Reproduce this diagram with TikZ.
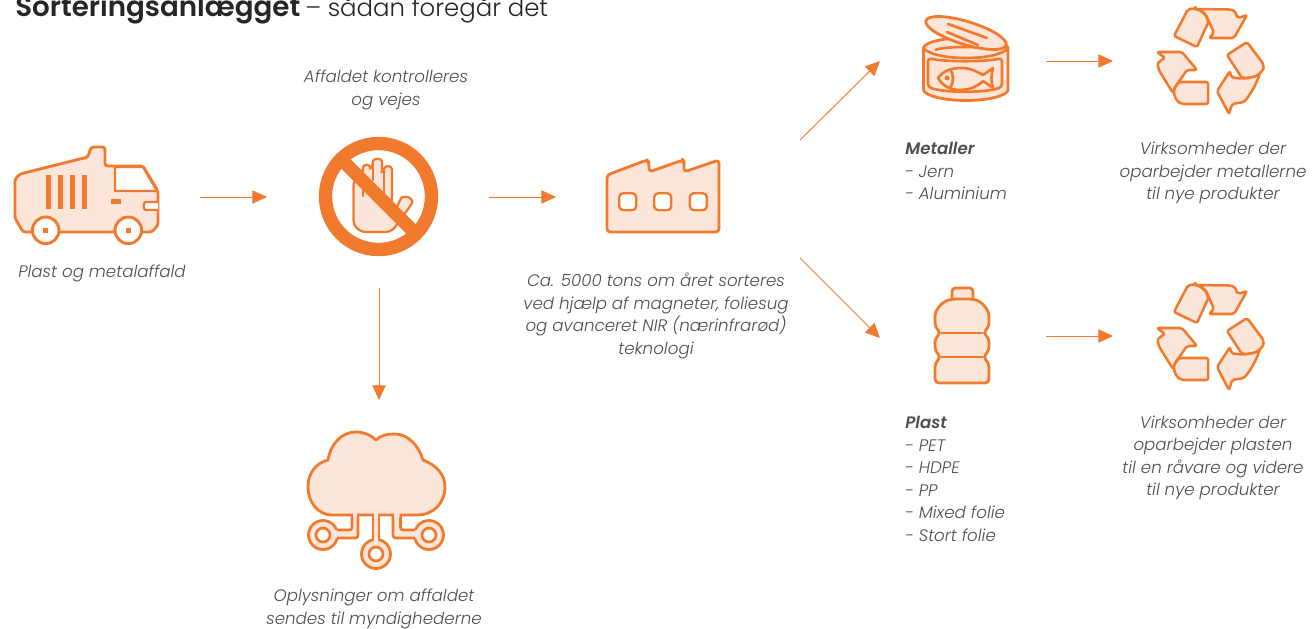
\documentclass[tikz,border=0pt]{standalone}
\usepackage{fontspec}
\setmainfont{Poppins Light}[ItalicFont={Poppins Light Italic},BoldItalicFont={Poppins SemiBold Italic},BoldFont={Poppins SemiBold}]
\newfontfamily\titlefont{Poppins}[BoldFont={Poppins SemiBold},UprightFont={Poppins Light}]
\usetikzlibrary{arrows.meta}
\definecolor{org}{HTML}{F27A2E}
\definecolor{lite}{HTML}{FCE6D9}
\definecolor{txt}{HTML}{4F4F4F}
\tikzset{
  icon/.style={draw=org,fill=lite,line width=2.1pt,line join=round,line cap=round},
  thin icon/.style={icon,line width=1.9pt},
  holeshape/.style={draw=org,fill=white,line width=2pt,line join=round},
  flow/.style={draw=org,line width=0.7pt,-{Triangle[length=11pt,width=10pt,fill=org]}},
  lab/.style={font=\itshape\fontsize{12.5}{16.9}\selectfont,text=txt,align=center,inner sep=0pt},
  labl/.style={lab,align=left,anchor=north west},
  recycle/.pic={
    \draw[thin icon,rounded corners=1.5pt] (1195,9) -- (1230,9.5) .. controls (1236,11) and (1236,15) .. (1238,18) -- (1247,15) -- (1234,38) -- (1209,38) -- (1214,33) -- (1207,17) .. controls (1204,12) and (1200,10) .. (1195,9) -- cycle;
    \draw[thin icon,rounded corners=1.5pt] (1174,36) -- (1186,13) .. controls (1188,9) and (1192,8.5) .. (1195,9) .. controls (1200,10) and (1205,14) .. (1207,18) .. controls (1208,21) and (1208,23) .. (1207,25) -- (1197,47) -- cycle;
    \draw[thin icon,rounded corners=1.5pt] (1260,73) .. controls (1256,85) and (1250,95) .. (1244,102) -- (1232,104) -- (1229,114) -- (1217,91) -- (1230,71) -- (1231,77) .. controls (1240,79) and (1252,79) .. (1260,73) -- cycle;
    \draw[thin icon,rounded corners=1.5pt] (1227,55) -- (1247,42) -- (1262,62) .. controls (1264,66) and (1264,69) .. (1260,73) .. controls (1256,77) and (1248,78) .. (1242,78) -- cycle;
    \draw[thin icon,rounded corners=1.5pt] (1157,52) -- (1182,52) -- (1197,70) -- (1187,70) -- (1175,87) -- (1173,93) -- (1160,72) .. controls (1158,68) and (1157,64) .. (1160,61) -- (1165,58) -- cycle;
    \draw[thin icon,rounded corners=1.5pt] (1208,82) -- (1208,104) -- (1186,104) .. controls (1178,104) and (1175,98) .. (1174,93) .. controls (1174,88) and (1178,82) .. (1183,82) -- cycle;
  }
}
\begin{document}
\begin{tikzpicture}[x=0.75pt,y=-0.75pt]
\clip (0,0) rectangle (1313,628);
\useasboundingbox (0,0) rectangle (1313,628);
\fill[white] (0,0) rectangle (1313,628);

% title
\node[anchor=base west,inner sep=0pt,text=black!85] (title) at (15,16.5) {\titlefont\bfseries\fontsize{20.8}{20}\selectfont Sorteringsanlægget};
\node[anchor=base west,inner sep=0pt,text=black!85] (titleb) at (305,16.5) {\titlefont\fontsize{18.3}{20}\selectfont – sådan foregår det};

% truck
\draw[icon,rounded corners=2pt] (15,218) -- (15,179) -- (20,174) -- (88,157) -- (91,147) -- (105,147) -- (105,166) -- (143,166) -- (158,191) -- (158,225) -- (152,232) -- (23,232) -- cycle;
\draw[holeshape,line width=1.8pt] (115,167) -- (115,191) -- (157,191) -- (143,167) -- cycle;
\draw[holeshape,rounded corners=1.5pt,line width=1.8pt] (158,202) -- (144,202) -- (144,210) -- (158,210);
\foreach \x in {46,58,70,82} \fill[org] (\x,175) rectangle ++(5,34);
\fill[org] (111,199) rectangle (121,204);
\foreach \x in {45.7,128.3}{
  \draw[holeshape,line width=2.2pt] (\x,230.3) circle[radius=13.3];
  \fill[org] (\x-2.5,227.8) rectangle ++(5,5);
}
\node[lab] (truckl) at (102,273) {Plast og metalaffald};

% stop hand
\draw[thin icon,line width=1.7pt,rounded corners=2pt] (353.5,182) -- (353.5,218) .. controls (353.5,227) and (360,232) .. (368,232) -- (383,232) .. controls (390,232) and (394,229) .. (397,224) -- (411,205) .. controls (413,201) and (410,197) .. (405,197) .. controls (402,197) and (400,199) .. (397,208) -- (392,212) -- (392,172) .. controls (392,165) and (384,165) .. (384,172) -- (382,172) -- (382,164) .. controls (382,158) and (373,158) .. (373,164) -- (370,170) .. controls (370,164) and (363,164) .. (363,170) -- (362,175) -- cycle;
\draw[org,line width=1.7pt,line cap=round] (363,172) -- (363,196) (373,164) -- (373,180) (384,172) -- (384,198);
\draw[org,line width=10pt] (337,155) -- (419,237);
\draw[org,line width=10pt,fill=none] (378.5,196.5) circle[radius=53];
\node[lab] (ctrl) at (386,90) {Affaldet kontrolleres\\og vejes};

% factory
\draw[icon,rounded corners=2.5pt] (607,232) -- (607,175) -- (647,160) -- (649,162) -- (649,172) -- (683,160) -- (684,162) -- (684,172) -- (719,160) -- (719,232) -- cycle;
\foreach \x in {627.7,662.7,698.3}
  \draw[holeshape,rounded corners=3pt,line width=1.8pt] (\x-8.5,193.2) rectangle (\x+8.5,210.2);
\node[lab] (sort) at (656,316) {Ca. 5000 tons om året sorteres\\ved hjælp af magneter, foliesug\\og avanceret NIR (nærinfrarød)\\teknologi};

% can
\draw[icon] (923.5,48) -- (923.5,90) .. controls (925,96) and (945,100.5) .. (966,100.5) .. controls (987,100.5) and (1007,96) .. (1008,90) -- (1008,48) .. controls (1007,42) and (990,38) .. (966,38) .. controls (942,38) and (925,42) .. (923.5,48) -- cycle;
\draw[org,line width=2pt] (923.5,48) .. controls (928,54) and (945,58) .. (966,58) .. controls (987,58) and (1004,54) .. (1008,48);
\draw[org,line width=2pt] (935,50) .. controls (945,46) and (985,46) .. (997,50);
\draw[icon,rotate around={-17:(966,33)}] (966,33) ellipse[x radius=42,y radius=11.5];
\draw[org,line width=2pt,line cap=round] (948,24) -- (987,38) (947,32) -- (978,45);
\draw[org,line width=2pt,line join=round,rounded corners=2.5pt] (928,58) .. controls (945,62) and (985,62) .. (1002,58) -- (1002,87) .. controls (985,93) and (945,93) .. (928,87) -- cycle;
\draw[org,line width=2pt,line join=round,fill=lite] (938,78) .. controls (944,70) and (952,68) .. (962,68) .. controls (970,68) and (978,72) .. (983,75) -- (993,68) .. controls (991,75) and (991,81) .. (993,88) -- (983,81) .. controls (978,86) and (970,90) .. (960,90) .. controls (950,90) and (943,86) .. (938,78) -- cycle;
\draw[org,line width=2pt] (950,69) .. controls (954,74) and (954,83) .. (950,88);
\fill[org] (947,78) circle[radius=2.5];
\node[labl] (met) at (905,142) {\textbf{Metaller}\\- Jern\\- Aluminium};

% bottle
\draw[icon,rounded corners=2.5pt] (952,299) -- (952,288) -- (973,288) -- (973,299);
\draw[icon,rounded corners=3pt] (952,299) .. controls (942,302) and (935,310) .. (935,320) -- (935,327) -- (941,333) -- (935,338) -- (935,351) -- (941,357) -- (935,363) -- (935,383) -- (989,383) -- (989,363) -- (983,357) -- (989,351) -- (989,338) -- (983,333) -- (989,327) -- (989,320) .. controls (989,310) and (982,302) .. (973,299) -- cycle;
\draw[org,line width=2.1pt] (941,333) -- (983,333) (941,357) -- (983,357);
\node[labl] (pla) at (905,416) {\textbf{Plast}\\- PET\\- HDPE\\- PP\\- Mixed folie\\- Stort folie};

% recycling
\pic (r1) at (0,0) {recycle};
\pic (r2) at (0,276) {recycle};
\node[lab] (v1) at (1213,173) {Virksomheder der\\oparbejder metallerne\\til nye produkter};
\node[lab] (v2) at (1213,458) {Virksomheder der\\oparbejder plasten\\til en råvare og videre\\til nye produkter};

% cloud
\foreach \c in {(323,535),(376,554),(429,535)}{
  \draw[icon] \c circle[radius=14.5];
  \draw[holeshape] \c circle[radius=7];
}
\path[fill=lite] (335,530) -- (352,530) -- (352,512) -- (358,512) -- (358,538) -- (335,538) -- cycle;
\path[fill=lite] (373,512) rectangle (379,543);
\path[fill=lite] (393,512) -- (400.5,512) -- (400.5,530) -- (417,530) -- (417,538) -- (393,538) -- cycle;
\draw[org,line width=2pt,line join=round,rounded corners=2pt] (337,530) -- (352,530) -- (352,515);
\draw[org,line width=2pt,line join=round,rounded corners=2pt] (337,538) -- (358,538) -- (358,515);
\draw[org,line width=2pt] (373,515) -- (373,541) (379,515) -- (379,541);
\draw[org,line width=2pt,line join=round,rounded corners=2pt] (415,538) -- (393,538) -- (393,515);
\draw[org,line width=2pt,line join=round,rounded corners=2pt] (415,530) -- (400.5,530) -- (400.5,515);
\draw[icon] (332,515) .. controls (318,515) and (308,502) .. (308,487) .. controls (308,473) and (316,463) .. (328,460) .. controls (331,443) and (342,432) .. (356,432) .. controls (364,432) and (371,435) .. (376,440) .. controls (381,435) and (388,434) .. (395,434) .. controls (408,434) and (419,446) .. (423,460) .. controls (436,465) and (445,474) .. (445,487) .. controls (445,503) and (433,515) .. (418,515) -- cycle;
\fill[lite] (353,513) rectangle (357,517.5) (374,513) rectangle (378,517.5) (394,513) rectangle (399.5,517.5);
\node[lab] (gov) at (374,609) {Oplysninger om affaldet\\sendes til myndighederne};

% connectors
\coordinate (a1) at (200,197); \coordinate (a2) at (267,197);
\coordinate (b1) at (489,197); \coordinate (b2) at (556,197);
\coordinate (c1) at (379,288); \coordinate (c2) at (379,400);
\coordinate (d1) at (800,140); \coordinate (d2) at (880,61);
\coordinate (e1) at (800,258); \coordinate (e2) at (880,338);
\coordinate (f1) at (1046,61); \coordinate (f2) at (1113,61);
\coordinate (g1) at (1046,336); \coordinate (g2) at (1113,336);
\foreach \s/\t in {a1/a2,b1/b2,c1/c2,d1/d2,e1/e2,f1/f2,g1/g2}
  \draw[flow] (\s) -- (\t);
\end{tikzpicture}
\end{document}
